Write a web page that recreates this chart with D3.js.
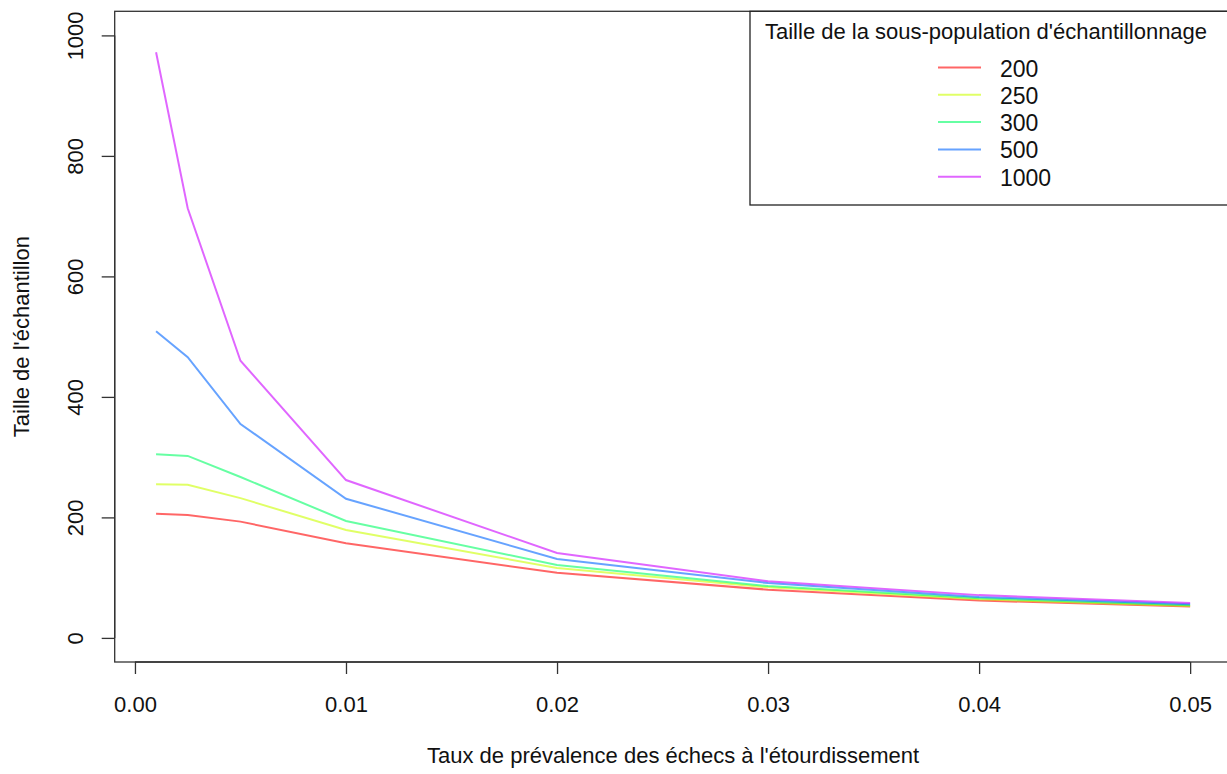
<!DOCTYPE html>
<html>
<head>
<meta charset="utf-8">
<script src="https://cdn.jsdelivr.net/npm/d3@7"></script>
<style>
  body { margin: 0; background: #fff; }
  svg { display: block; font-family: "Liberation Sans", Arial, sans-serif; }
</style>
</head>
<body>
<div id="chart"></div>
<script>
// prevalence rates (x) and sample sizes per sub-population size
const rates = [0.001, 0.0025, 0.005, 0.01, 0.02, 0.03, 0.04, 0.05];
const popLabels = ["200", "250", "300", "500", "1000"];
const n200  = [206, 204, 193, 157, 108, 80, 62, 52];
const n250  = [255, 254, 232, 179, 116, 84, 64, 53];
const n300  = [305, 302, 267, 194, 121, 86, 66, 54];
const n500  = [509, 466, 355, 231, 131, 91, 68, 56];
const n1000 = [972, 713, 460, 262, 141, 94, 71, 58];
const seriesColors = ["#ff0000", "#ccff00", "#00ff66", "#0066ff", "#cc00ff"];
const xTicks = [0, 0.01, 0.02, 0.03, 0.04, 0.05];
const yTicks = [0, 200, 400, 600, 800, 1000];

const series = [n200, n250, n300, n500, n1000];

const width = 1227, height = 774;
const svg = d3.select("#chart").append("svg")
  .attr("width", width)
  .attr("height", height);

// R style axis extension (4%)
const xlim = [0.001, 0.05], ylim = [0, 1000];
const xext = (xlim[1] - xlim[0]) * 0.04, yext = (ylim[1] - ylim[0]) * 0.04;

const x = d3.scaleLinear()
  .domain([xlim[0] - xext, xlim[1] + xext])
  .range([114.7, 1231.5]);
const y = d3.scaleLinear()
  .domain([ylim[0] - yext, ylim[1] + yext])
  .range([662, 11.3]);

const line = d3.line()
  .x((d, i) => x(rates[i]))
  .y(d => y(d));

series.forEach((s, k) => {
  svg.append("path")
    .datum(s)
    .attr("fill", "none")
    .attr("stroke", seriesColors[k])
    .attr("stroke-opacity", 0.6)
    .attr("stroke-width", 2)
    .attr("d", line);
});

// box
svg.append("rect")
  .attr("x", x.range()[0])
  .attr("y", y.range()[1])
  .attr("width", x.range()[1] - x.range()[0])
  .attr("height", y.range()[0] - y.range()[1])
  .attr("fill", "none")
  .attr("stroke", "#333")
  .attr("stroke-width", 1.3);

// x axis
const xAxis = svg.append("g")
  .attr("transform", "translate(0," + y.range()[0] + ")")
  .call(d3.axisBottom(x)
    .tickValues(xTicks)
    .tickFormat(d3.format(".2f"))
    .tickSize(12)
    .tickSizeOuter(0)
    .tickPadding(22));
xAxis.select(".domain")
  .attr("d", "M" + x(xTicks[0]) + ",0H" + x(xTicks[xTicks.length - 1]))
  .attr("stroke", "#333").attr("stroke-width", 1.3);
xAxis.selectAll(".tick line").attr("stroke", "#333").attr("stroke-width", 1.3);
xAxis.selectAll(".tick text")
  .attr("font-size", 22).attr("fill", "#111")
  .attr("font-family", "Liberation Sans, Arial, sans-serif");

// y axis
const yAxis = svg.append("g")
  .attr("transform", "translate(" + x.range()[0] + ",0)")
  .call(d3.axisLeft(y)
    .tickValues(yTicks)
    .tickFormat(d3.format("d"))
    .tickSize(13)
    .tickSizeOuter(0));
yAxis.select(".domain")
  .attr("d", "M0," + y(yTicks[0]) + "V" + y(yTicks[yTicks.length - 1]))
  .attr("stroke", "#333").attr("stroke-width", 1.3);
yAxis.selectAll(".tick line").attr("stroke", "#333").attr("stroke-width", 1.3);
yAxis.selectAll(".tick text")
  .attr("font-size", 22).attr("fill", "#111")
  .attr("font-family", "Liberation Sans, Arial, sans-serif")
  .attr("x", null).attr("dy", null)
  .attr("text-anchor", "middle")
  .attr("transform", "translate(-32,0) rotate(-90)");

// axis titles
svg.append("text")
  .attr("x", (x.range()[0] + x.range()[1]) / 2)
  .attr("y", 763)
  .attr("text-anchor", "middle")
  .attr("font-size", 22).attr("fill", "#111")
  .text("Taux de prévalence des échecs à l'étourdissement");

svg.append("text")
  .attr("transform", "translate(29," + ((y.range()[0] + y.range()[1]) / 2) + ") rotate(-90)")
  .attr("text-anchor", "middle")
  .attr("font-size", 22).attr("fill", "#111")
  .text("Taille de l'échantillon");

// legend
const lg = svg.append("g");
lg.append("rect")
  .attr("x", 750).attr("y", y.range()[1])
  .attr("width", 520).attr("height", 205 - y.range()[1])
  .attr("fill", "#fff")
  .attr("stroke", "#222").attr("stroke-width", 1.3);
lg.append("text")
  .attr("x", 765).attr("y", 39)
  .attr("font-size", 22).attr("fill", "#111")
  .text("Taille de la sous-population d'échantillonnage");

popLabels.forEach((lab, k) => {
  const yy = 67.5 + k * 27.3;
  lg.append("line")
    .attr("x1", 938).attr("x2", 981)
    .attr("y1", yy).attr("y2", yy)
    .attr("stroke", seriesColors[k])
    .attr("stroke-opacity", 0.6)
    .attr("stroke-width", 2);
  lg.append("text")
    .attr("x", 1000).attr("y", yy + 9)
    .attr("font-size", 23).attr("fill", "#111")
    .text(lab);
});
</script>
</body>
</html>
